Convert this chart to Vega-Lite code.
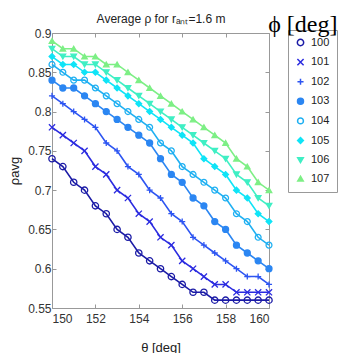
{
  "$schema": "https://vega.github.io/schema/vega-lite/v6.json",
  "width": 217,
  "height": 275,
  "autosize": {"type": "none"},
  "padding": {"left": 52, "top": 33, "right": 76, "bottom": 45},
  "title": {"text": "ϕ [deg]", "anchor": "end", "frame": "bounds", "font": "Liberation Serif", "fontSize": 24, "fontWeight": "normal", "color": "#000000", "offset": -24},
  "config": {"view": {"stroke": null}, "font": "Liberation Sans", "legend": {"strokeColor": "#999999"}},
  "data": {"values": [
    {"theta":150,"phi":100,"rho":0.74},{"theta":150.5,"phi":100,"rho":0.73},{"theta":151,"phi":100,"rho":0.71},{"theta":151.5,"phi":100,"rho":0.70},{"theta":152,"phi":100,"rho":0.68},{"theta":152.5,"phi":100,"rho":0.67},{"theta":153,"phi":100,"rho":0.65},{"theta":153.5,"phi":100,"rho":0.64},{"theta":154,"phi":100,"rho":0.62},{"theta":154.5,"phi":100,"rho":0.61},{"theta":155,"phi":100,"rho":0.60},{"theta":155.5,"phi":100,"rho":0.59},{"theta":156,"phi":100,"rho":0.58},{"theta":156.5,"phi":100,"rho":0.57},{"theta":157,"phi":100,"rho":0.57},{"theta":157.5,"phi":100,"rho":0.56},{"theta":158,"phi":100,"rho":0.56},{"theta":158.5,"phi":100,"rho":0.56},{"theta":159,"phi":100,"rho":0.56},{"theta":159.5,"phi":100,"rho":0.56},{"theta":160,"phi":100,"rho":0.56},
    {"theta":150,"phi":101,"rho":0.78},{"theta":150.5,"phi":101,"rho":0.77},{"theta":151,"phi":101,"rho":0.76},{"theta":151.5,"phi":101,"rho":0.75},{"theta":152,"phi":101,"rho":0.73},{"theta":152.5,"phi":101,"rho":0.72},{"theta":153,"phi":101,"rho":0.70},{"theta":153.5,"phi":101,"rho":0.69},{"theta":154,"phi":101,"rho":0.67},{"theta":154.5,"phi":101,"rho":0.66},{"theta":155,"phi":101,"rho":0.64},{"theta":155.5,"phi":101,"rho":0.63},{"theta":156,"phi":101,"rho":0.61},{"theta":156.5,"phi":101,"rho":0.60},{"theta":157,"phi":101,"rho":0.59},{"theta":157.5,"phi":101,"rho":0.58},{"theta":158,"phi":101,"rho":0.58},{"theta":158.5,"phi":101,"rho":0.57},{"theta":159,"phi":101,"rho":0.57},{"theta":159.5,"phi":101,"rho":0.57},{"theta":160,"phi":101,"rho":0.57},
    {"theta":150,"phi":102,"rho":0.82},{"theta":150.5,"phi":102,"rho":0.81},{"theta":151,"phi":102,"rho":0.80},{"theta":151.5,"phi":102,"rho":0.79},{"theta":152,"phi":102,"rho":0.78},{"theta":152.5,"phi":102,"rho":0.76},{"theta":153,"phi":102,"rho":0.75},{"theta":153.5,"phi":102,"rho":0.73},{"theta":154,"phi":102,"rho":0.72},{"theta":154.5,"phi":102,"rho":0.70},{"theta":155,"phi":102,"rho":0.69},{"theta":155.5,"phi":102,"rho":0.67},{"theta":156,"phi":102,"rho":0.66},{"theta":156.5,"phi":102,"rho":0.64},{"theta":157,"phi":102,"rho":0.63},{"theta":157.5,"phi":102,"rho":0.62},{"theta":158,"phi":102,"rho":0.61},{"theta":158.5,"phi":102,"rho":0.60},{"theta":159,"phi":102,"rho":0.59},{"theta":159.5,"phi":102,"rho":0.59},{"theta":160,"phi":102,"rho":0.58},
    {"theta":150,"phi":103,"rho":0.84},{"theta":150.5,"phi":103,"rho":0.83},{"theta":151,"phi":103,"rho":0.83},{"theta":151.5,"phi":103,"rho":0.82},{"theta":152,"phi":103,"rho":0.81},{"theta":152.5,"phi":103,"rho":0.80},{"theta":153,"phi":103,"rho":0.79},{"theta":153.5,"phi":103,"rho":0.78},{"theta":154,"phi":103,"rho":0.77},{"theta":154.5,"phi":103,"rho":0.76},{"theta":155,"phi":103,"rho":0.74},{"theta":155.5,"phi":103,"rho":0.72},{"theta":156,"phi":103,"rho":0.71},{"theta":156.5,"phi":103,"rho":0.69},{"theta":157,"phi":103,"rho":0.68},{"theta":157.5,"phi":103,"rho":0.66},{"theta":158,"phi":103,"rho":0.65},{"theta":158.5,"phi":103,"rho":0.63},{"theta":159,"phi":103,"rho":0.62},{"theta":159.5,"phi":103,"rho":0.61},{"theta":160,"phi":103,"rho":0.60},
    {"theta":150,"phi":104,"rho":0.86},{"theta":150.5,"phi":104,"rho":0.85},{"theta":151,"phi":104,"rho":0.84},{"theta":151.5,"phi":104,"rho":0.84},{"theta":152,"phi":104,"rho":0.83},{"theta":152.5,"phi":104,"rho":0.82},{"theta":153,"phi":104,"rho":0.81},{"theta":153.5,"phi":104,"rho":0.80},{"theta":154,"phi":104,"rho":0.79},{"theta":154.5,"phi":104,"rho":0.78},{"theta":155,"phi":104,"rho":0.76},{"theta":155.5,"phi":104,"rho":0.75},{"theta":156,"phi":104,"rho":0.73},{"theta":156.5,"phi":104,"rho":0.72},{"theta":157,"phi":104,"rho":0.71},{"theta":157.5,"phi":104,"rho":0.70},{"theta":158,"phi":104,"rho":0.69},{"theta":158.5,"phi":104,"rho":0.67},{"theta":159,"phi":104,"rho":0.66},{"theta":159.5,"phi":104,"rho":0.64},{"theta":160,"phi":104,"rho":0.63},
    {"theta":150,"phi":105,"rho":0.87},{"theta":150.5,"phi":105,"rho":0.86},{"theta":151,"phi":105,"rho":0.86},{"theta":151.5,"phi":105,"rho":0.85},{"theta":152,"phi":105,"rho":0.85},{"theta":152.5,"phi":105,"rho":0.84},{"theta":153,"phi":105,"rho":0.83},{"theta":153.5,"phi":105,"rho":0.82},{"theta":154,"phi":105,"rho":0.81},{"theta":154.5,"phi":105,"rho":0.80},{"theta":155,"phi":105,"rho":0.79},{"theta":155.5,"phi":105,"rho":0.78},{"theta":156,"phi":105,"rho":0.77},{"theta":156.5,"phi":105,"rho":0.76},{"theta":157,"phi":105,"rho":0.74},{"theta":157.5,"phi":105,"rho":0.73},{"theta":158,"phi":105,"rho":0.72},{"theta":158.5,"phi":105,"rho":0.70},{"theta":159,"phi":105,"rho":0.69},{"theta":159.5,"phi":105,"rho":0.67},{"theta":160,"phi":105,"rho":0.66},
    {"theta":150,"phi":106,"rho":0.88},{"theta":150.5,"phi":106,"rho":0.87},{"theta":151,"phi":106,"rho":0.87},{"theta":151.5,"phi":106,"rho":0.86},{"theta":152,"phi":106,"rho":0.86},{"theta":152.5,"phi":106,"rho":0.85},{"theta":153,"phi":106,"rho":0.84},{"theta":153.5,"phi":106,"rho":0.83},{"theta":154,"phi":106,"rho":0.82},{"theta":154.5,"phi":106,"rho":0.81},{"theta":155,"phi":106,"rho":0.80},{"theta":155.5,"phi":106,"rho":0.79},{"theta":156,"phi":106,"rho":0.78},{"theta":156.5,"phi":106,"rho":0.77},{"theta":157,"phi":106,"rho":0.76},{"theta":157.5,"phi":106,"rho":0.75},{"theta":158,"phi":106,"rho":0.74},{"theta":158.5,"phi":106,"rho":0.72},{"theta":159,"phi":106,"rho":0.71},{"theta":159.5,"phi":106,"rho":0.69},{"theta":160,"phi":106,"rho":0.68},
    {"theta":150,"phi":107,"rho":0.89},{"theta":150.5,"phi":107,"rho":0.88},{"theta":151,"phi":107,"rho":0.88},{"theta":151.5,"phi":107,"rho":0.87},{"theta":152,"phi":107,"rho":0.87},{"theta":152.5,"phi":107,"rho":0.86},{"theta":153,"phi":107,"rho":0.86},{"theta":153.5,"phi":107,"rho":0.85},{"theta":154,"phi":107,"rho":0.84},{"theta":154.5,"phi":107,"rho":0.83},{"theta":155,"phi":107,"rho":0.82},{"theta":155.5,"phi":107,"rho":0.81},{"theta":156,"phi":107,"rho":0.80},{"theta":156.5,"phi":107,"rho":0.79},{"theta":157,"phi":107,"rho":0.78},{"theta":157.5,"phi":107,"rho":0.77},{"theta":158,"phi":107,"rho":0.76},{"theta":158.5,"phi":107,"rho":0.74},{"theta":159,"phi":107,"rho":0.73},{"theta":159.5,"phi":107,"rho":0.71},{"theta":160,"phi":107,"rho":0.70}
  ]},
  "layer": [
    {
      "mark": {"type": "line", "strokeWidth": 1.6},
      "encoding": {
        "x": {"field": "theta", "type": "quantitative", "scale": {"domain": [150, 160]},
          "axis": {"orient": "bottom", "values": [150, 152, 154, 156, 158, 160], "grid": false, "tickSize": -4, "tickColor": "#999999", "domainColor": "#999999", "labelFontSize": 12, "labelColor": "#333333", "labelPadding": 9, "title": "θ [deg]", "titleFontSize": 13, "titleFontWeight": "normal", "titleColor": "#222222", "titlePadding": 17}},
        "y": {"field": "rho", "type": "quantitative", "scale": {"domain": [0.55, 0.9]},
          "axis": {"orient": "left", "values": [0.55, 0.6, 0.65, 0.7, 0.75, 0.8, 0.85, 0.9], "format": "~g", "grid": false, "tickSize": -4, "tickColor": "#999999", "domainColor": "#999999", "labelFontSize": 12, "labelColor": "#333333", "labelPadding": 5, "title": "ρavg", "titleFontSize": 13, "titleFontWeight": "normal", "titleColor": "#222222", "titlePadding": 6}},
        "stroke": {"field": "phi", "type": "ordinal", "scale": {"range": ["#1b1ba6", "#2b2be0", "#2d55f2", "#2b86f2", "#1fb0f2", "#0fe4f7", "#3fefc4", "#7def85"]}, "legend": null}
      }
    },
    {
      "mark": {"type": "point", "filled": false, "strokeWidth": 1.3, "opacity": 1},
      "encoding": {
        "x": {"field": "theta", "type": "quantitative",
          "axis": {"orient": "top", "values": [150, 152, 154, 156, 158, 160], "grid": false, "labels": false, "tickSize": -4, "tickColor": "#999999", "domainColor": "#999999", "title": "Average ρ for rₐₙₜ=1.6 m", "titleFontSize": 12, "titleFontWeight": "normal", "titleColor": "#222222", "titlePadding": 7}},
        "y": {"field": "rho", "type": "quantitative",
          "axis": {"orient": "right", "values": [0.55, 0.6, 0.65, 0.7, 0.75, 0.8, 0.85, 0.9], "grid": false, "labels": false, "tickSize": -4, "tickColor": "#999999", "domainColor": "#999999", "title": null}},
        "color": {"field": "phi", "type": "ordinal", "scale": {"range": ["#1b1ba6", "#2b2be0", "#2d55f2", "#2b86f2", "#1fb0f2", "#0fe4f7", "#3fefc4", "#7def85"]},
          "legend": {"orient": "none", "legendX": 236, "legendY": -3, "title": null, "strokeColor": "#999999", "fillColor": "#ffffff", "padding": 7, "symbolSize": 121, "symbolStrokeWidth": 1.5, "symbolOpacity": 1, "labelFont": "Liberation Sans", "labelFontSize": 11, "labelColor": "#222222", "labelOffset": 5, "rowPadding": 6.6,
            "encode": {"symbols": {
              "shape": {"value": {"expr": "['M-1.9,0L1.9,0M-0.55,0A0.55,0.55 0 1,1 0.55,0A0.55,0.55 0 1,1 -0.55,0', 'M-1.9,0L1.9,0M-0.5,-0.5L0.5,0.5M-0.5,0.5L0.5,-0.5', 'M-1.9,0L1.9,0M0,-0.6L0,0.6', 'M-1.9,0L1.9,0M-0.45,0A0.45,0.45 0 1,1 0.45,0A0.45,0.45 0 1,1 -0.45,0', 'M-1.9,0L1.9,0M-0.55,0A0.55,0.55 0 1,1 0.55,0A0.55,0.55 0 1,1 -0.55,0', 'M-1.9,0L1.9,0M0,-0.65L0.65,0L0,0.65L-0.65,0Z', 'M-1.9,0L1.9,0M-0.6,-0.45L0.6,-0.45L0,0.6Z', 'M-1.9,0L1.9,0M-0.6,0.45L0.6,0.45L0,-0.6Z'][datum.value - 100]"}},
              "fill": {"value": {"expr": "['transparent', 'transparent', 'transparent', '#2b86f2', 'transparent', '#0fe4f7', '#3fefc4', '#7def85'][datum.value - 100]"}}
            }}}},
        "shape": {"field": "phi", "type": "ordinal", "scale": {"range": ["circle", "M-1,-1L1,1M-1,1L1,-1", "M-1,0H1M0,-1V1", "circle", "circle", "diamond", "triangle-down", "triangle-up"]}, "legend": null},
        "fill": {"field": "phi", "type": "ordinal", "scale": {"range": ["transparent", "transparent", "transparent", "#2b86f2", "transparent", "#0fe4f7", "#3fefc4", "#7def85"]}, "legend": null},
        "size": {"field": "phi", "type": "ordinal", "scale": {"range": [40, 30, 40, 16, 40, 36, 36, 36]}, "legend": null}
      }
    }
  ],
  "resolve": {"axis": {"x": "independent", "y": "independent"}}
}
